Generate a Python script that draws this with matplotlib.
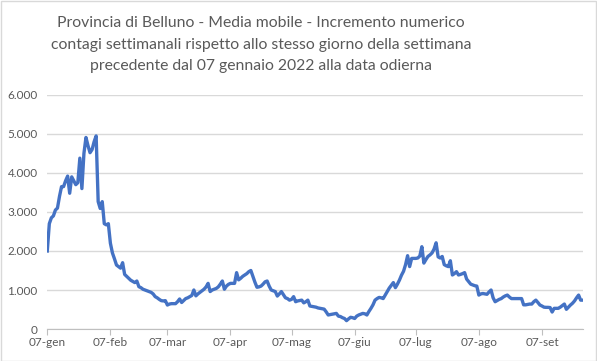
import matplotlib
matplotlib.use("Agg")
from matplotlib import pyplot as plt
from matplotlib.patches import Rectangle
import numpy as np
import pandas as pd

# media mobile giornaliera, dal 07 gennaio 2022
start_date = "2022-01-07"
gen = [2000, 2700, 2850, 2900, 3050, 3100, 3400, 3650, 3650, 3800, 3920, 3480, 3900,
       3800, 3700, 3750, 4380, 3600, 4500, 4910, 4700, 4520, 4600, 4800, 4950]
feb = [3265, 3090, 3265, 2700, 2670, 2700, 2200, 1950, 1800, 1640, 1600, 1560, 1700, 1400,
       1350, 1300, 1250, 1220, 1190, 1230, 1085, 1060, 1020, 1000, 980, 960, 940, 900]
mar = [830, 800, 760, 727, 720, 727, 615, 640, 650, 650, 650, 700, 770, 680, 730, 780,
       800, 830, 860, 1000, 850, 900, 940, 980, 1020, 1080, 1170, 960, 1000, 1020, 1040]
apr = [1080, 1150, 1230, 1020, 1100, 1145, 1170, 1170, 1170, 1445, 1260, 1300, 1350, 1385,
       1420, 1470, 1500, 1350, 1200, 1070, 1080, 1100, 1150, 1210, 1230, 1100, 1000, 980, 960, 845]
mag = [900, 960, 880, 800, 780, 740, 760, 830, 700, 720, 730, 740, 670, 700, 740, 590,
       580, 570, 560, 540, 530, 520, 510, 440, 360, 370, 380, 390, 400, 330, 320]
giu = [290, 270, 215, 260, 300, 290, 270, 330, 360, 380, 400, 390, 360, 450, 530,
       620, 740, 780, 810, 800, 780, 870, 960, 1050, 1120, 1190, 1060, 1150, 1255, 1380]
lug = [1480, 1650, 1880, 1600, 1810, 1810, 1810, 1820, 1870, 2110, 1690, 1780, 1860, 1900,
       1950, 2050, 2210, 1850, 1820, 1860, 1650, 1620, 1600, 1750, 1385, 1420, 1470, 1385,
       1400, 1420, 1445]
ago = [1280, 1215, 1150, 1130, 1110, 1100, 870, 900, 910, 900, 890, 950, 1000, 800, 700,
       730, 760, 780, 820, 850, 870, 820, 780, 780, 780, 780, 780, 780, 620, 620, 630]
set_ = [640, 640, 700, 740, 680, 615, 590, 560, 555, 555, 550, 435, 530, 530, 530, 560,
        600, 640, 505, 560, 615, 660, 720, 800, 870, 740, 740]

values = gen + feb + mar + apr + mag + giu + lug + ago + set_
dates = pd.date_range(start_date, periods=len(values), freq="D")

tick_dates = pd.to_datetime(["2022-01-07", "2022-02-07", "2022-03-07", "2022-04-07", "2022-05-07",
                             "2022-06-07", "2022-07-07", "2022-08-07", "2022-09-07"])
tick_labels = ["07-gen", "07-feb", "07-mar", "07-apr", "07-mag", "07-giu", "07-lug", "07-ago", "07-set"]
y_ticks = [0, 1000, 2000, 3000, 4000, 5000, 6000]
y_labels = ["0", "1.000", "2.000", "3.000", "4.000", "5.000", "6.000"]

title = ("Provincia di Belluno - Media mobile - Incremento numerico\n"
         "contagi settimanali rispetto allo stesso giorno della settimana\n"
         "precedente dal 07 gennaio 2022 alla data odierna")

plt.rcParams['font.family'] = ['Lato', 'DejaVu Sans']
grey = '#595959'

fig = plt.figure(figsize=(5.97, 3.61), dpi=100)
fig.patches.append(Rectangle((0.001, 0.001), 0.997, 0.996, transform=fig.transFigure,
                             fill=False, edgecolor='#d9d9d9', linewidth=1))
ax = fig.add_axes([0.0792, 0.0886, 0.8968, 0.6484])

ax.plot(dates, values, color='#4472C4', linewidth=2.4, solid_joinstyle='round')

ax.set_xlim(dates[0], dates[-1])
ax.set_ylim(0, 6000)
ax.set_yticks(y_ticks)
ax.set_yticklabels(y_labels)
ax.set_xticks(tick_dates)
ax.set_xticklabels(tick_labels)

ax.grid(axis='y', color='#d9d9d9', linewidth=1)
ax.set_axisbelow(True)
for s in ['top', 'right', 'left']:
    ax.spines[s].set_visible(False)
ax.spines['bottom'].set_color('#bfbfbf')
ax.tick_params(axis='y', length=0, pad=7, labelsize=8.5, labelcolor=grey)
ax.tick_params(axis='x', length=4, color='#bfbfbf', pad=2, labelsize=8.5, labelcolor=grey)

fig.text(0.437, 0.955, title, ha='center', va='top', fontsize=11.3, color=grey,
         linespacing=1.68, multialignment='center')

fig.savefig('out.png', dpi=100)
